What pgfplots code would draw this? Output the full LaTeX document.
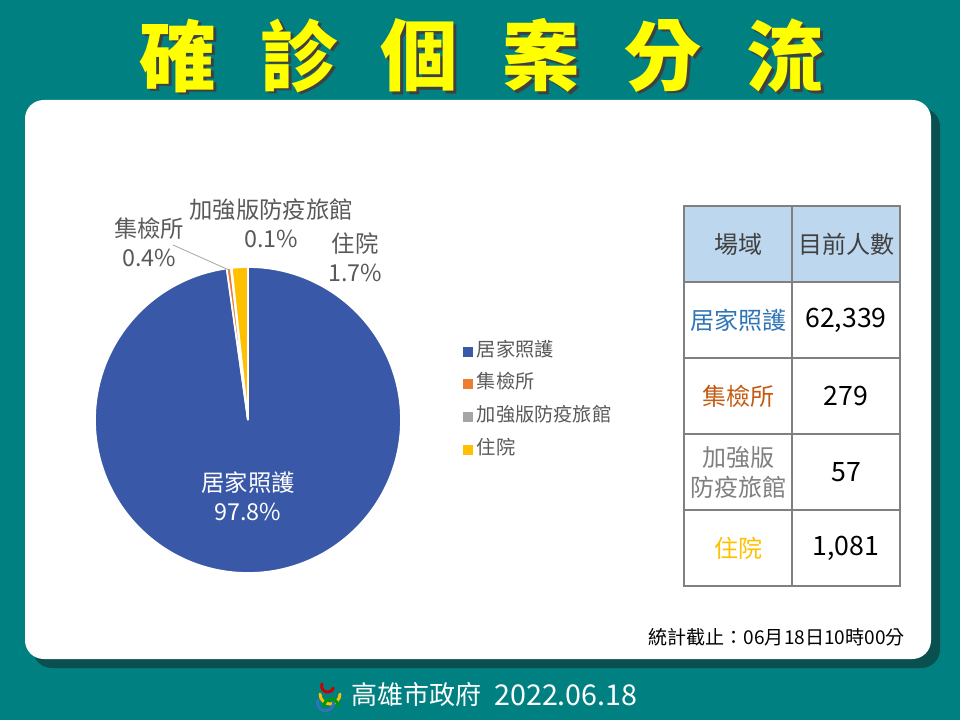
\documentclass[border=0pt]{standalone}
\usepackage{pgfplots}
\pgfplotsset{compat=1.18}
\usepackage{pgfplotstable}
\usepackage{fontspec}
\setmainfont{Noto Sans CJK TC}

\definecolor{bgteal}{RGB}{0,128,128}
\definecolor{shadowteal}{RGB}{10,80,80}
\definecolor{pieblue}{RGB}{58,88,168}
\definecolor{pieorange}{RGB}{237,125,49}
\definecolor{piegray}{RGB}{165,165,165}
\definecolor{pieyellow}{RGB}{255,192,0}
\definecolor{labelgray}{RGB}{89,89,89}
\definecolor{hdrblue}{RGB}{189,215,238}
\definecolor{gridgray}{RGB}{128,128,128}
\definecolor{tblblue}{RGB}{46,117,182}
\definecolor{tblorange}{RGB}{197,90,17}
\definecolor{tblgray}{RGB}{127,127,127}
\definecolor{titleyellow}{RGB}{255,255,0}

% 場域, 目前人數
\pgfplotstableread{
idx value color
0 62339 pieblue
1 279 pieorange
2 57 piegray
3 1081 pieyellow
}\piedata

\def\radius{114.75pt}

\begin{document}
\begin{tikzpicture}[x=0.75pt,y=-0.75pt]
\useasboundingbox (0,0) rectangle (960,720);
\fill[bgteal] (0,0) rectangle (960,720);

% title, with a dark drop shadow in the same node
\foreach \ch/\xc in {確/178,診/299,個/419,案/541,分/663,流/785}{
  \node[text=titleyellow, font=\fontsize{58}{62}\selectfont\bfseries, inner sep=0pt] at (\xc,57)
    {\makebox[0pt][l]{\hspace{2pt}\raisebox{-2pt}{\color{black!75}\ch}}\ch};
}

% panel
\fill[shadowteal, rounded corners=14pt] (33,108) rectangle (940,668);
\fill[white, rounded corners=14pt] (25,100) rectangle (931,659);

\coordinate (piec) at (248,420);
\begin{axis}[
    at={(piec)}, anchor=origin,
    x=114.75pt, y=114.75pt,
    xmin=-1, xmax=1, ymin=-1, ymax=1,
    hide axis, clip=false, disabledatascaling,
    legend style={at={(axis cs:1.405,0.127)}, anchor=west, draw=none, fill=none,
        inner sep=0pt, row sep=10.6pt,
        font=\fontsize{14.4}{16}\selectfont, text=labelgray,
        nodes={inner xsep=3pt, inner ysep=0pt, text height=10.5pt, text depth=3.5pt}},
    legend cell align=left,
]
\edef\total{0}
\pgfplotsforeachungrouped \i in {0,...,3}{%
  \pgfplotstablegetelem{\i}{value}\of\piedata
  \edef\total{\fpeval{\total+\pgfplotsretval}}%
}
\edef\cum{0}
\pgfplotsforeachungrouped \i in {0,...,3}{%
  \pgfplotstablegetelem{\i}{value}\of\piedata
  \let\val\pgfplotsretval
  \pgfplotstablegetelem{\i}{color}\of\piedata
  \let\col\pgfplotsretval
  \edef\sa{\fpeval{round(90-360*\cum/\total,4)}}%
  \edef\cum{\fpeval{\cum+\val}}%
  \edef\ea{\fpeval{round(90-360*\cum/\total,4)}}%
  \edef\temp{\noexpand\fill[fill=\col, draw=white, line width=1.3pt]
    (axis cs:0,0) -- ++(\sa:\radius) arc[start angle=\sa, end angle=\ea, radius=\radius] -- cycle;}%
  \temp
}
\addlegendimage{legend image code/.code={\fill[pieblue] (0pt,-3.4pt) rectangle (6.8pt,3.4pt);}}
\addlegendentry{居家照護}
\addlegendimage{legend image code/.code={\fill[pieorange] (0pt,-3.4pt) rectangle (6.8pt,3.4pt);}}
\addlegendentry{集檢所}
\addlegendimage{legend image code/.code={\fill[piegray] (0pt,-3.4pt) rectangle (6.8pt,3.4pt);}}
\addlegendentry{加強版防疫旅館}
\addlegendimage{legend image code/.code={\fill[pieyellow] (0pt,-3.4pt) rectangle (6.8pt,3.4pt);}}
\addlegendentry{住院}
\end{axis}

% data labels
\draw[piegray, line width=0.6pt] (173,245) -- (229,270);
\tikzset{dl/.style={align=center, font=\fontsize{17.5}{22}\selectfont, text=labelgray, inner sep=0pt}}
\node[dl, text=white] at (248,496) {居家照護\\97.8\%};
\node[dl] at (149,242) {集檢所\\0.4\%};
\node[dl] at (271,223) {加強版防疫旅館\\0.1\%};
\node[dl] at (355,257) {住院\\1.7\%};

% table
\fill[hdrblue] (684,206) rectangle (900,282);
\draw[gridgray, line width=1.5pt] (684,206) rectangle (900,586);
\draw[gridgray, line width=1.5pt] (792,206) -- (792,586);
\foreach \yy in {282,358,434,510}{\draw[gridgray, line width=1.5pt] (684,\yy) -- (900,\yy);}
\tikzset{tc/.style={align=center, font=\fontsize{18}{22.5}\selectfont, inner sep=0pt},
         tn/.style={font=\fontsize{20}{24}\selectfont, inner sep=0pt}}
\node[tc, text=black!75] at (738,244) {場域};
\node[tc, text=black!75] at (846,244) {目前人數};
\node[tc, text=tblblue] at (738,320) {居家照護};
\node[tc, text=tblorange] at (738,396) {集檢所};
\node[tc, text=tblgray] at (738,472) {加強版\\防疫旅館};
\node[tc, text=pieyellow] at (738,548) {住院};
\node[tn] at (846,320) {62,339};
\node[tn] at (846,396) {279};
\node[tn] at (846,472) {57};
\node[tn] at (846,548) {1,081};

% footer
\node[anchor=east, font=\fontsize{14.3}{17}\selectfont, inner sep=0pt] at (905,637) {統計截止：06月18日10時00分};

% bottom: logo and city government
\begin{scope}[line width=2.2pt, line cap=round]
  \draw[red!80!black] (322,684) arc[start angle=200, end angle=20, radius=6];
  \draw[pieyellow] (320,694) arc[start angle=180, end angle=0, radius=10];
  \draw[tblblue] (318,700) arc[start angle=200, end angle=-20, radius=8];
  \draw[green!60!black] (324,706) arc[start angle=180, end angle=360, radius=7];
\end{scope}
\node[anchor=west, text=white, font=\fontsize{19.5}{22}\selectfont, inner sep=0pt] at (351,695) {高雄市政府};
\node[anchor=west, text=white, font=\fontsize{21.5}{24}\selectfont, inner sep=0pt] at (494,695) {2022.06.18};
\end{tikzpicture}
\end{document}
